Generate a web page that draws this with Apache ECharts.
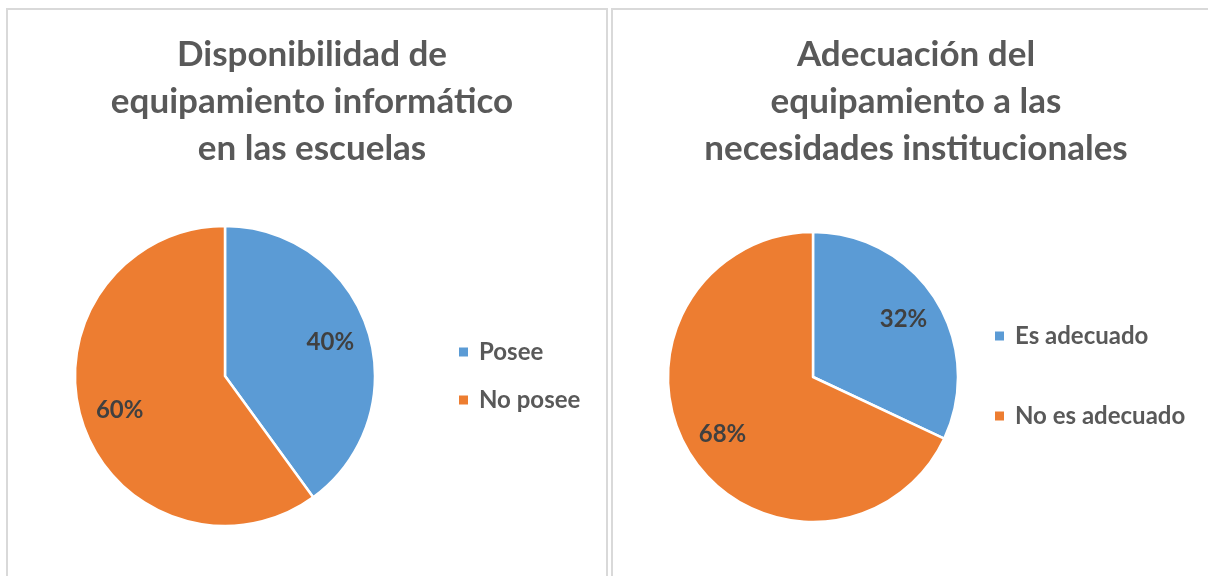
<!DOCTYPE html>
<html>
<head>
<meta charset="utf-8">
<script src="https://cdn.jsdelivr.net/npm/echarts@6/dist/echarts.min.js"></script>
<style>
  html, body { margin: 0; padding: 0; background: #fff; }
  #chart { width: 1208px; height: 576px; }
</style>
</head>
<body>
<div id="chart"></div>
<script>
// datos de los dos gráficos
const leftTitle = 'Disponibilidad de\nequipamiento informático\nen las escuelas'
const leftNames = ['Posee', 'No posee']
const leftValues = [40, 60]

const rightTitle = 'Adecuación del\nequipamiento a las\nnecesidades institucionales'
const rightNames = ['Es adecuado', 'No es adecuado']
const rightValues = [32, 68]

const colors = ['#5B9BD5', '#ED7D31']
const font = 'Lato, "Open Sans", sans-serif'

// centros de los pasteles
const leftCenter = [225, 376]
const rightCenter = [813, 377]

// mueve la etiqueta interior más hacia el borde (como en Excel)
function pushLabel(center, k) {
	return function (params) {
		const r = params.labelRect
		const lx = r.x + r.width / 2
		const ly = r.y + r.height / 2
		return {
			x: center[0] + (lx - center[0]) * k,
			y: center[1] + (ly - center[1]) * k,
			align: 'center',
			verticalAlign: 'middle',
		}
	}
}

function pieSeries(names, values, center, radius) {
	return {
		type: 'pie',
		center: center,
		radius: [0, radius],
		startAngle: 90,
		clockwise: true,
		silent: true,
		itemStyle: { borderColor: '#fff', borderWidth: 2.5 },
		label: {
			show: true,
			position: 'inside',
			formatter: '{d}%',
			color: '#404040',
			fontFamily: font,
			fontWeight: 'bold',
			fontSize: 24,
		},
		labelLine: { show: false },
		labelLayout: pushLabel(center, 1.42),
		data: names.map((n, i) => ({ name: n, value: values[i] })),
	}
}

const titleStyle = {
	color: '#595959',
	fontFamily: font,
	fontWeight: 'bold',
	fontSize: 35,
	lineHeight: 47,
}

const legendText = {
	color: '#595959',
	fontFamily: font,
	fontWeight: 'bold',
	fontSize: 24,
	lineHeight: 24,
	padding: [0, 0, 0, 5],
}

const chart = echarts.init(document.getElementById('chart'))
chart.setOption({
	animation: false,
	color: colors,
	title: [
		{ text: leftTitle, left: 307, top: 26, textAlign: 'center', textStyle: titleStyle },
		{ text: rightTitle, left: 911, top: 26, textAlign: 'center', textStyle: titleStyle },
	],
	legend: [
		{
			data: leftNames,
			orient: 'vertical',
			left: 457,
			top: 340,
			padding: 0,
			icon: 'rect',
			itemWidth: 11,
			itemHeight: 11,
			itemGap: 24,
			textStyle: legendText,
			selectedMode: false,
		},
		{
			data: rightNames,
			orient: 'vertical',
			left: 993,
			top: 324,
			padding: 0,
			icon: 'rect',
			itemWidth: 11,
			itemHeight: 11,
			itemGap: 56,
			textStyle: legendText,
			selectedMode: false,
		},
	],
	graphic: [
		{
			type: 'rect',
			shape: { x: 7, y: 9, width: 600, height: 620 },
			style: { fill: 'none', stroke: '#d9d9d9', lineWidth: 2 },
		},
		{
			type: 'rect',
			shape: { x: 612, y: 9, width: 620, height: 620 },
			style: { fill: 'none', stroke: '#d9d9d9', lineWidth: 2 },
		},
	],
	series: [
		pieSeries(leftNames, leftValues, leftCenter, 150),
		pieSeries(rightNames, rightValues, rightCenter, 145),
	],
})
</script>
</body>
</html>
